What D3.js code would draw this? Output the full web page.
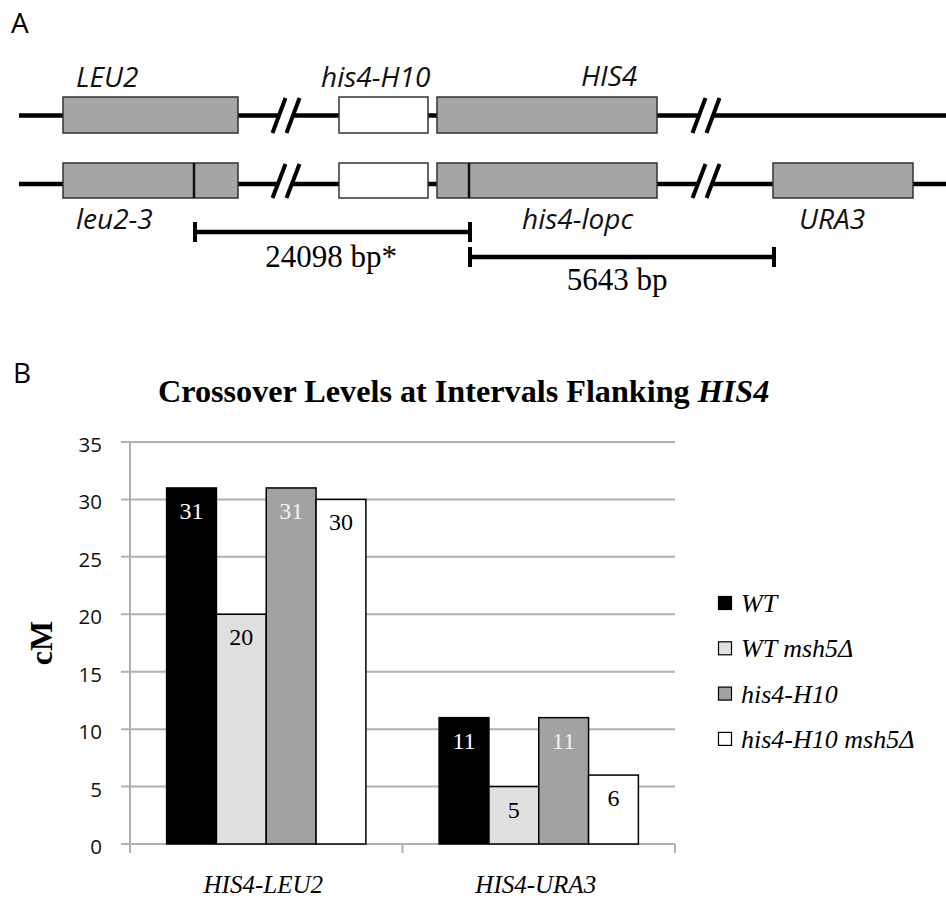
<!DOCTYPE html>
<html>
<head>
<meta charset="utf-8">
<script src="https://cdn.jsdelivr.net/npm/d3@7"></script>
<style>
  html, body { margin: 0; padding: 0; background: #fff; }
  svg { display: block; }
</style>
</head>
<body>
<svg id="chart" width="946" height="901"></svg>
<script>
// ---------- DATA ----------
const categories = ["HIS4-LEU2", "HIS4-URA3"];
const seriesNames = ["WT", "WT msh5Δ", "his4-H10", "his4-H10 msh5Δ"];
const wtValues = [31, 11];
const wtMsh5Values = [20, 5];
const h10Values = [31, 11];
const h10Msh5Values = [30, 6];
const yTicks = [0, 5, 10, 15, 20, 25, 30, 35];
const titleMain = "Crossover Levels at Intervals Flanking ";
const titleItalic = "HIS4";
const yLabel = "cM";

// Panel A (diagram) labels and distances
const topGenes = ["LEU2", "his4-H10", "HIS4"];
const bottomGenes = ["leu2-3", "his4-lopc", "URA3"];
const distances = ["24098 bp*", "5643 bp"];

// ---------- STYLE / LAYOUT ----------
const seriesValues = [wtValues, wtMsh5Values, h10Values, h10Msh5Values];
const fills = ["#000000", "#e0e0e0", "#a2a2a2", "#ffffff"];
const labelColors = ["#ffffff", "#000000", "#f2f2f2", "#000000"];
const serif = "'Liberation Serif', 'Times New Roman', serif";
const sans = "'Open Sans', 'DejaVu Sans', sans-serif";

const svg = d3.select("#chart");

// ================= PANEL A =================
const A = svg.append("g");
A.append("text").attr("x", 11).attr("y", 33).attr("font-family", sans)
  .attr("font-size", 28).text("A");

const geneFill = "#a5a5a5", geneStroke = "#333";
const rowTop = {line: 115.5, y0: 97, y1: 133};
const rowBot = {line: 184, y0: 163, y1: 198};
const lineW = 4.5;
const breaks = [272.5, 692.5];
const slant = 13, slashGap = 14;

function hline(x0, x1, y) {
  A.append("line").attr("x1", x0).attr("x2", x1).attr("y1", y).attr("y2", y)
    .attr("stroke", "#000").attr("stroke-width", lineW);
}
function brk(xb, row) {
  [0, slashGap].forEach(off => {
    A.append("line")
      .attr("x1", xb + off).attr("y1", row.y1)
      .attr("x2", xb + off + slant).attr("y2", row.y0 + 1)
      .attr("stroke", "#000").attr("stroke-width", 4);
  });
}
function box(x0, x1, row, fill) {
  A.append("rect").attr("x", x0).attr("y", row.y0)
    .attr("width", x1 - x0).attr("height", row.y1 - row.y0)
    .attr("fill", fill).attr("stroke", geneStroke).attr("stroke-width", 1.5);
}
function mark(x, row) {
  A.append("line").attr("x1", x).attr("x2", x).attr("y1", row.y0).attr("y2", row.y1)
    .attr("stroke", "#111").attr("stroke-width", 2.5);
}
function glabel(txt, x, y) {
  A.append("text").attr("x", x).attr("y", y).attr("font-family", sans)
    .attr("font-style", "italic").attr("font-size", 28).attr("fill", "#111").text(txt);
}
function chromosome(row) {
  const mid = slant / 2;
  hline(19, breaks[0] + mid, row.line);
  hline(breaks[0] + slashGap + mid, breaks[1] + mid, row.line);
  hline(breaks[1] + slashGap + mid, 946, row.line);
}

// top chromosome
chromosome(rowTop);
box(63, 238, rowTop, geneFill);
box(339, 428, rowTop, "#fff");
box(437, 657, rowTop, geneFill);
breaks.forEach(b => brk(b, rowTop));

// bottom chromosome
chromosome(rowBot);
box(63, 238, rowBot, geneFill);
box(339, 428, rowBot, "#fff");
box(437, 657, rowBot, geneFill);
box(773, 913, rowBot, geneFill);
mark(194, rowBot);
mark(469, rowBot);
breaks.forEach(b => brk(b, rowBot));

glabel(topGenes[0], 76, 87);
glabel(topGenes[1], 321, 87);
glabel(topGenes[2], 581, 86);
glabel(bottomGenes[0], 76, 229);
glabel(bottomGenes[1], 522, 229);
glabel(bottomGenes[2], 799, 229);

// distance bars
function dbar(x0, x1, yy) {
  A.append("line").attr("x1", x0).attr("x2", x1).attr("y1", yy).attr("y2", yy)
    .attr("stroke", "#000").attr("stroke-width", 4.5);
  [x0, x1].forEach(x => A.append("line").attr("x1", x).attr("x2", x)
    .attr("y1", yy - 10).attr("y2", yy + 10).attr("stroke", "#000").attr("stroke-width", 4));
}
dbar(195, 470, 232);
dbar(470, 774, 257);
A.append("text").attr("x", 331).attr("y", 267).attr("text-anchor", "middle")
  .attr("font-family", serif).attr("font-size", 31).text(distances[0]);
A.append("text").attr("x", 617).attr("y", 290).attr("text-anchor", "middle")
  .attr("font-family", serif).attr("font-size", 31).text(distances[1]);

// ================= PANEL B =================
const B = svg.append("g");
B.append("text").attr("x", 13).attr("y", 383).attr("font-family", sans)
  .attr("font-size", 28).text("B");

const plot = {left: 130, right: 675, top: 442, bottom: 844};
const gridColor = "#b0b0b0";

const x0 = d3.scaleBand().domain(categories).range([plot.left, plot.right]).padding(0);
const x1 = d3.scaleBand().domain(seriesNames).range([0, x0.bandwidth()])
  .paddingInner(0).paddingOuter(0.735);
const y = d3.scaleLinear().domain([0, 35]).range([plot.bottom, plot.top]);

// title
const t = B.append("text").attr("x", 158).attr("y", 402)
  .attr("font-family", serif).attr("font-weight", "bold").attr("font-size", 32.2);
t.append("tspan").text(titleMain);
t.append("tspan").attr("font-style", "italic").text(titleItalic);

// gridlines + left ticks
B.append("g").selectAll("line").data(yTicks).join("line")
  .attr("x1", plot.left - 9).attr("x2", plot.right)
  .attr("y1", d => y(d)).attr("y2", d => y(d))
  .attr("stroke", gridColor).attr("stroke-width", 2);

// y axis line
B.append("line").attr("x1", plot.left).attr("x2", plot.left)
  .attr("y1", plot.top).attr("y2", plot.bottom + 9)
  .attr("stroke", gridColor).attr("stroke-width", 2);

// category ticks
const catEdges = categories.map(c => x0(c)).concat([x0(categories[categories.length - 1]) + x0.bandwidth()]);
B.append("g").selectAll("line").data(catEdges).join("line")
  .attr("x1", d => d).attr("x2", d => d)
  .attr("y1", plot.bottom).attr("y2", plot.bottom + 9)
  .attr("stroke", gridColor).attr("stroke-width", 2);

// y tick labels
B.append("g").selectAll("text").data(yTicks).join("text")
  .attr("x", 102).attr("y", d => y(d) + 10)
  .attr("text-anchor", "end").attr("font-family", sans).attr("font-size", 20.5)
  .attr("fill", "#111").text(d => d);

// y label
B.append("text").attr("transform", `translate(52,643) rotate(-90)`)
  .attr("text-anchor", "middle").attr("font-family", serif).attr("font-weight", "bold")
  .attr("font-size", 32).text(yLabel);

// bars
const barData = [];
categories.forEach((c, ci) => {
  seriesNames.forEach((s, si) => {
    barData.push({c, s, si, v: seriesValues[si][ci]});
  });
});
const bars = B.append("g");
bars.selectAll("rect").data(barData).join("rect")
  .attr("x", d => x0(d.c) + x1(d.s))
  .attr("y", d => y(d.v))
  .attr("width", x1.bandwidth())
  .attr("height", d => y(0) - y(d.v))
  .attr("fill", d => fills[d.si])
  .attr("stroke", "#000").attr("stroke-width", 1.5);

bars.selectAll("text").data(barData).join("text")
  .attr("x", d => x0(d.c) + x1(d.s) + x1.bandwidth() / 2)
  .attr("y", d => y(d.v) + 31)
  .attr("text-anchor", "middle").attr("font-family", serif).attr("font-size", 24)
  .attr("fill", d => labelColors[d.si]).text(d => d.v);

// category labels
B.append("g").selectAll("text").data(categories).join("text")
  .attr("x", d => x0(d) + x0.bandwidth() / 2 - 3)
  .attr("y", 893)
  .attr("text-anchor", "middle").attr("font-family", serif).attr("font-style", "italic")
  .attr("font-size", 25).text(d => d);

// legend
const leg = B.append("g");
const legY0 = 603.5, legStep = 45.3;
seriesNames.forEach((s, i) => {
  const cy = legY0 + i * legStep;
  leg.append("rect").attr("x", 718.5).attr("y", cy - 7).attr("width", 13).attr("height", 13)
    .attr("fill", fills[i]).attr("stroke", "#000").attr("stroke-width", 1.2);
  leg.append("text").attr("x", 741).attr("y", cy + 8.5)
    .attr("font-family", serif).attr("font-style", "italic").attr("font-size", 26)
    .text(s);
});
</script>
</body>
</html>
